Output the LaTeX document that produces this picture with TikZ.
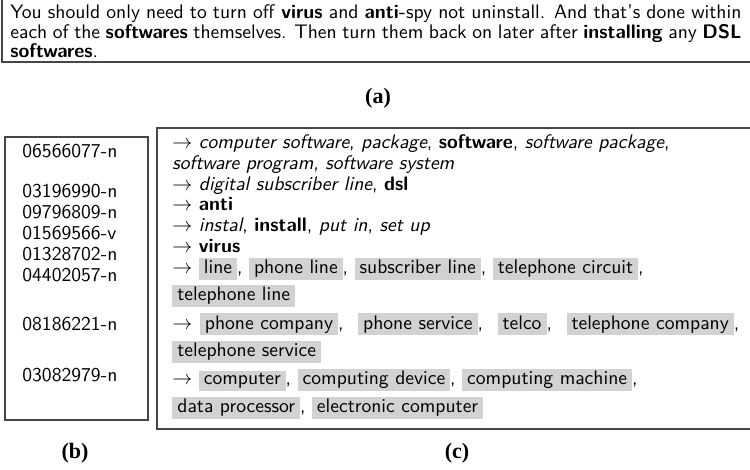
\documentclass[tikz,border=0pt]{standalone}
\usepackage{fontspec}
\newfontfamily\capfont{Liberation Serif}
\usetikzlibrary{positioning}
\definecolor{hlgray}{RGB}{210,210,210}
\definecolor{framegray}{RGB}{70,70,70}
\newcommand{\hl}[1]{{\setlength{\fboxsep}{1pt}\colorbox{hlgray}{\hspace{1.5pt}\rule[-1.8pt]{0pt}{7.8pt}#1\hspace{1.5pt}}}}
\newcommand{\fullline}[1]{\hbox to 365.5pt{\spaceskip=0.3em plus 1em minus 0.1em\relax #1}}

\begin{document}
\begin{tikzpicture}[x=0.5pt,y=-0.5pt]
        \tikzset{frame/.style={draw=framegray,line width=1pt}}
        \tikzset{txt/.style={anchor=base west,inner sep=0pt,font=\sffamily\fontsize{9.8}{10.4}\selectfont}}
        \tikzset{caption/.style={inner sep=0pt,font=\capfont\bfseries\fontsize{11}{12}\selectfont}}

        \useasboundingbox (0,0) rectangle (750,470);

        % (a) the post
        \draw[frame] (2,0) -- (2,62) -- (750,62);
        \node[txt] (post1) at (10,19)
            {\fullline{You should only need to turn off \textbf{virus} and \textbf{anti-}spy not uninstall. And that's done within}};
        \node[txt] (post2) at (10,39)
            {\fullline{each of the \textbf{softwares} themselves. Then turn them back on later after \textbf{installing} any \textbf{DSL}}};
        \node[txt] (post3) at (10,58) {\textbf{softwares}.};
        \node[caption] (capa) at (378,98) {(a)};

        % (b) synset ids
        \draw[frame] (5,137) rectangle (148,420);
        \foreach \n/\yy/\id in {1/158/06566077-n,2/198/03196990-n,3/219/09796809-n,4/240/01569566-v,
                                5/261/01328702-n,6/282/04402057-n,7/331/08186221-n,8/381/03082979-n}
            \node[txt] (id\n) at (22,\yy) {\id};
        \node[caption] (capb) at (75,453) {(b)};

        % (c) synonyms
        \draw[frame] (750,128) -- (157,128) -- (157,429) -- (750,429);
        \node[txt] (syn1) at (172,149) {$\rightarrow$ \textit{computer software}, \textit{package}, \textbf{software}, \textit{software package},};
        \node[txt] (syn2) at (172,170) {\textit{software program}, \textit{software system}};
        \node[txt] (syn3) at (172,191) {$\rightarrow$ \textit{digital subscriber line}, \textbf{dsl}};
        \node[txt] (syn4) at (172,211) {$\rightarrow$ \textbf{anti}};
        \node[txt] (syn5) at (172,232) {$\rightarrow$ \textit{instal}, \textbf{install}, \textit{put in}, \textit{set up}};
        \node[txt] (syn6) at (172,253) {$\rightarrow$ \textbf{virus}};
        \node[txt] (syn7) at (172,274) {$\rightarrow$ \hl{line}, \hl{phone line}, \hl{subscriber line}, \hl{telephone circuit},};
        \node[txt] (syn8) at (172,301) {\hl{telephone line}};
        \node[txt] (syn9) at (172,329) {$\rightarrow$\hspace{0.5pt} \hl{phone company},\hspace{4pt} \hl{phone service},\hspace{4pt} \hl{telco},\hspace{4pt} \hl{telephone company},};
        \node[txt] (syn10) at (172,357) {\hl{telephone service}};
        \node[txt] (syn11) at (172,385) {$\rightarrow$ \hl{computer}, \hl{computing device}, \hl{computing machine},};
        \node[txt] (syn12) at (172,413) {\hl{data processor}, \hl{electronic computer}};
        \node[caption] (capc) at (457,453) {(c)};
\end{tikzpicture}
\end{document}
